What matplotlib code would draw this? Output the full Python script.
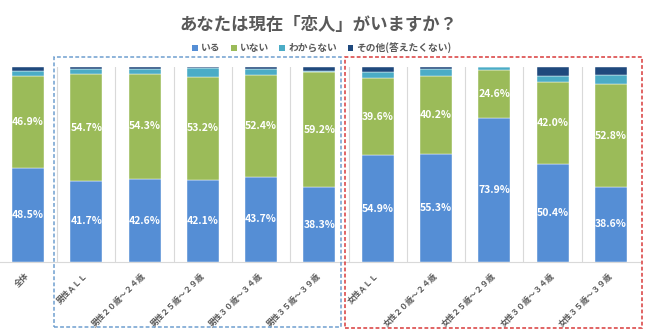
import matplotlib
matplotlib.use('Agg')
import matplotlib.pyplot as plt
from matplotlib.patches import Rectangle, Patch

plt.rcParams['font.family'] = ['Noto Sans CJK JP', 'DejaVu Sans']

title = 'あなたは現在「恋人」がいますか？'
categories = ['全体', '男性ＡＬＬ', '男性２０歳～２４歳', '男性２５歳～２９歳', '男性３０歳～３４歳', '男性３５歳～３９歳',
              '女性ＡＬＬ', '女性２０歳～２４歳', '女性２５歳～２９歳', '女性３０歳～３４歳', '女性３５歳～３９歳']
series_names = ['いる', 'いない', 'わからない', 'その他(答えたくない)']

iru = [48.5, 41.7, 42.6, 42.1, 43.7, 38.3, 54.9, 55.3, 73.9, 50.4, 38.6]
inai = [46.9, 54.7, 54.3, 53.2, 52.4, 59.2, 39.6, 40.2, 24.6, 42.0, 52.8]
wakaranai = [2.8, 2.6, 2.4, 4.2, 3.0, 0.5, 3.1, 3.6, 1.5, 3.0, 4.5]
sonota = [1.8, 1.0, 0.7, 0.5, 0.9, 2.0, 2.4, 0.9, 0.0, 4.6, 4.1]

colors = ['#558ED5', '#9BBB59', '#4BACC6', '#1F497D']
gray = '#595959'

fig = plt.figure(figsize=(6.5, 3.31), dpi=100)
ax = fig.add_axes([-0.0017, 0.2085, 0.9863, 0.5876])

x = list(range(len(categories)))
bottom = [0.0] * len(categories)
for vals, c in zip([iru, inai, wakaranai, sonota], colors):
    ax.bar(x, vals, width=0.55, bottom=bottom, color=c, edgecolor='white', linewidth=0.3, zorder=3)
    bottom = [b + v for b, v in zip(bottom, vals)]

# 数値ラベル（いる・いない のみ）
for i in x:
    ax.text(i, iru[i] / 2, f'{iru[i]:.1f}%', ha='center', va='center', color='white',
            fontsize=7.5, fontweight='bold', zorder=4)
    ax.text(i, iru[i] + inai[i] / 2, f'{inai[i]:.1f}%', ha='center', va='center', color='white',
            fontsize=7.5, fontweight='bold', zorder=4)

# カテゴリ区切りの縦線
for b in range(len(categories) - 1):
    ax.plot([b + 0.5, b + 0.5], [0, 100], color='#D9D9D9', linewidth=0.8, zorder=1)

ax.set_xlim(-0.5, len(categories) - 0.5)
ax.set_ylim(0, 100)
for s in ['top', 'right', 'left']:
    ax.spines[s].set_visible(False)
ax.spines['bottom'].set_color('#D9D9D9')
ax.set_yticks([])
ax.set_xticks(x)
ax.set_xticklabels(categories, rotation=45, ha='right', va='center', rotation_mode='anchor',
                   fontsize=5.8, fontweight='bold', color=gray)
ax.tick_params(axis='x', length=0, pad=9)

# タイトル・凡例
fig.text(0.49, 0.924, title, ha='center', va='center', fontsize=12.5, fontweight='bold', color=gray)
handles = [Patch(facecolor=c, edgecolor='none') for c in colors]
fig.legend(handles, series_names, loc='center', bbox_to_anchor=(0.495, 0.856), ncol=4, frameon=False,
           handlelength=0.6, handleheight=0.6, handletextpad=0.3, columnspacing=1.1,
           prop={'size': 7, 'weight': 'bold'}, labelcolor=gray)

# 男性・女性の点線枠
fig.patches.append(Rectangle((0.0831, 0.0121), 0.4415, 0.8157, transform=fig.transFigure, fill=False,
                             edgecolor='#6F9FCF', linestyle=(0, (2.5, 1.5)), linewidth=1.1))
fig.patches.append(Rectangle((0.5308, 0.0091), 0.4569, 0.8187, transform=fig.transFigure, fill=False,
                             edgecolor='#D93A3A', linestyle=(0, (2.5, 1.5)), linewidth=1.1))

plt.savefig('out.png', dpi=100)
